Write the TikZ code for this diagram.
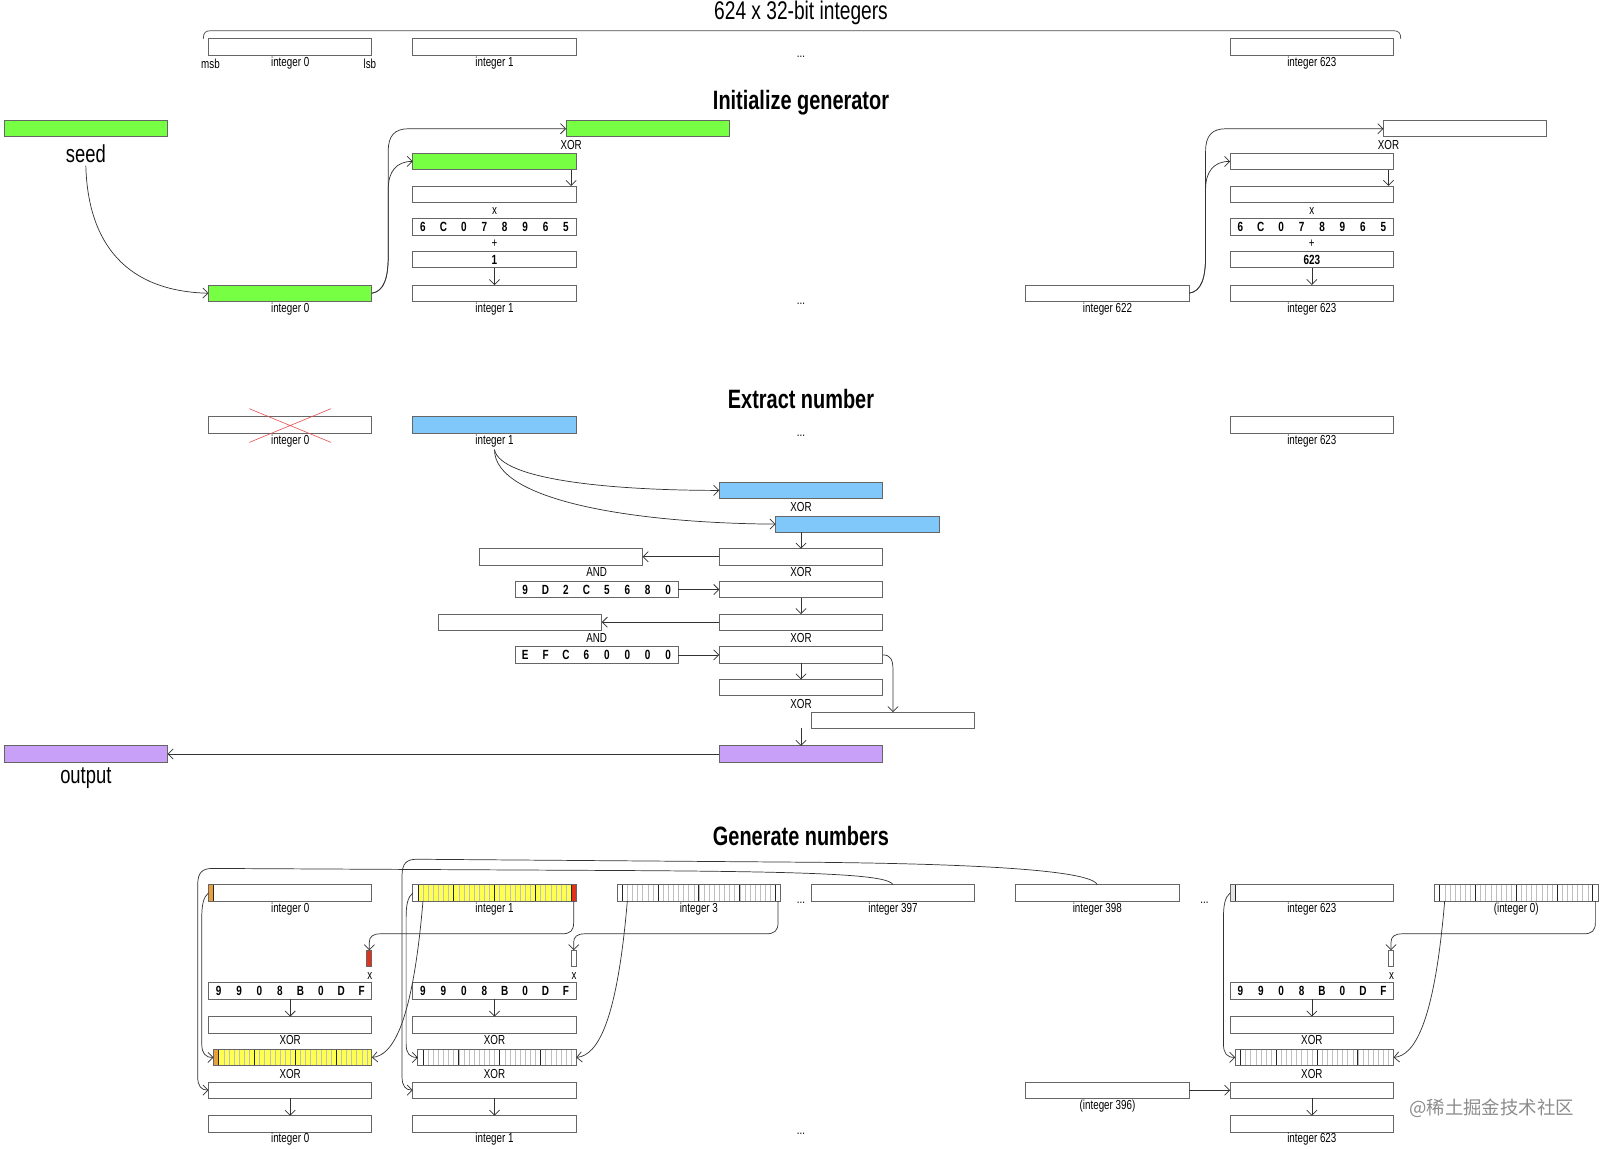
\documentclass[tikz,border=0pt]{standalone}
\usepackage{fontspec}
\setmainfont{Liberation Sans}[FakeStretch=0.75]
\newfontfamily\cjkfam{Noto Sans CJK SC}
\usetikzlibrary{arrows.meta}
\definecolor{cgreen}{RGB}{119,255,68}
\definecolor{cblue}{RGB}{128,200,250}
\definecolor{cpurple}{RGB}{200,160,248}
\definecolor{cyellow}{RGB}{255,255,80}
\definecolor{corange}{RGB}{232,160,60}
\definecolor{cred}{RGB}{225,50,30}
\definecolor{cxred}{RGB}{230,80,80}
\colorlet{bord}{black!60}
\colorlet{lnc}{black!80}
\newcommand\lblf{\fontsize{12.8}{14}\selectfont}
\newcommand\cstf{\bfseries\fontsize{13}{15}\selectfont}
\newcommand\ttlf{\fontsize{25}{28}\selectfont}
\newcommand\ttlbf{\bfseries\fontsize{26}{28}\selectfont}
\newcommand\bigf{\fontsize{24}{28}\selectfont}
\newcommand\cjkf{\cjkfam\fontsize{18}{22}\selectfont}
\newcommand\hexs[8]{\makebox[20pt]{#1}\makebox[20pt]{#2}\makebox[20pt]{#3}\makebox[20pt]{#4}\makebox[20pt]{#5}\makebox[20pt]{#6}\makebox[20pt]{#7}\makebox[20pt]{#8}}
\begin{document}
\begin{tikzpicture}[x=1pt,y=-1pt,
 bx/.style={draw=bord,line width=0.8pt,minimum width=160pt,minimum height=16pt,inner sep=0pt,outer sep=0pt,anchor=north west},
 lb/.style={font=\lblf,inner sep=0pt,anchor=center},
 kbx/.style={bx,font=\cstf},
 arr/.style={draw=lnc,line width=0.7pt,-{Straight Barb[length=5pt,width=10pt]}},
 ln/.style={draw=lnc,line width=0.7pt},
 bitl/.style={draw=black!25,line width=0.3pt},
 bytel/.style={draw=black!85,line width=0.7pt},
]
\useasboundingbox (0,0) rectangle (1568,1124);

% ---------------- top
\node[font=\ttlf,inner sep=0pt] (ttop) at (784,13) {624 x 32-bit integers};
\draw[ln,draw=black!70] (199,38) .. controls (199,32) and (201,30) .. (207,30) -- (1363,30) .. controls (1369,30) and (1371,32) .. (1371,38);
\node[bx] (top0) at (204,38) {};
\node[bx] (top1) at (404,38) {};
\node[bx] (top623) at (1204,38) {};
\node[lb] (lmsb) at (206,62) {msb};
\node[lb] (ltop0) at (284,62) {integer 0};
\node[lb] (llsb) at (362,62) {lsb};
\node[lb] (ltop1) at (484,62) {integer 1};
\node[lb] (ltop623) at (1284,62) {integer 623};
\node[lb] (dtop) at (784,56) {...};

% ---------------- initialize
\node[font=\ttlbf,inner sep=0pt] (tinit) at (784,101) {Initialize generator};
\node[bx,fill=cgreen] (seedb) at (4,118) {};
\node[font=\bigf,inner sep=0pt] (seedl) at (84,150) {seed};
\node[bx,fill=cgreen] (i0) at (204,279) {};
\node[lb] (li0) at (284,303) {integer 0};
\node[bx,fill=cgreen] (xa) at (554,118) {};
\node[lb] (lxa) at (559,142) {XOR};
\node[bx,fill=cgreen] (ga) at (404,150) {};
\node[bx] (ma) at (404,182) {};
\node[lb] (lxma) at (484,207) {x};
\node[kbx] (ka) at (404,214) {\hexs 6C078965};
\node[lb] (lpa) at (484,239) {+};
\node[kbx] (oa) at (404,246) {1};
\node[bx] (ra) at (404,279) {};
\node[lb] (lra) at (484,303) {integer 1};
\node[lb] (dinit) at (784,297) {...};
\node[bx] (i622) at (1004,279) {};
\node[lb] (li622) at (1084,303) {integer 622};
\node[bx] (xb) at (1354,118) {};
\node[lb] (lxb) at (1359,142) {XOR};
\node[bx] (gb) at (1204,150) {};
\node[bx] (mb) at (1204,182) {};
\node[lb] (lxmb) at (1284,207) {x};
\node[kbx] (kB) at (1204,214) {\hexs 6C078965};
\node[lb] (lpb) at (1284,239) {+};
\node[kbx] (ob) at (1204,246) {623};
\node[bx] (rb) at (1204,279) {};
\node[lb] (lrb) at (1284,303) {integer 623};

\draw[arr] ([yshift=-3pt]seedl.south) .. controls (86,240) and (125,285) .. (i0.west);
\draw[arr] (i0.east) .. controls (376,285) and (380,272) .. (380,250) -- (380,148) .. controls (380,133) and (386,126) .. (400,126) -- (xa.west);
\draw[arr] (i0.east) .. controls (376,285) and (380,272) .. (380,250) -- (380,185) .. controls (380,168) and (388,158) .. (ga.west);
\draw[arr] ([xshift=-5pt]ga.south east) -- ([xshift=-5pt]ma.north east);
\draw[arr] (oa.south) -- (ra.north);
\draw[arr] (i622.east) .. controls (1176,285) and (1180,272) .. (1180,250) -- (1180,148) .. controls (1180,133) and (1186,126) .. (1200,126) -- (xb.west);
\draw[arr] (i622.east) .. controls (1176,285) and (1180,272) .. (1180,250) -- (1180,185) .. controls (1180,168) and (1188,158) .. (gb.west);
\draw[arr] ([xshift=-5pt]gb.south east) -- ([xshift=-5pt]mb.north east);
\draw[arr] (ob.south) -- (rb.north);

% ---------------- extract
\node[font=\ttlbf,inner sep=0pt] (text) at (784,391) {Extract number};
\node[bx] (e0) at (204,408) {};
\node[lb] (le0) at (284,432) {integer 0};
\draw[draw=cxred,line width=0.6pt] (244,400) -- (324,433) (244,433) -- (324,400);
\node[bx,fill=cblue] (e1) at (404,408) {};
\node[lb] (le1) at (484,432) {integer 1};
\node[lb] (dext) at (784,427) {...};
\node[bx] (e623) at (1204,408) {};
\node[lb] (le623) at (1284,432) {integer 623};
\node[bx,fill=cblue] (ea) at (704,472) {};
\node[lb] (lea) at (784,496) {XOR};
\node[bx,fill=cblue] (eb) at (759,505) {};
\node[bx] (ec) at (704,537) {};
\node[bx] (ed) at (469,537) {};
\node[lb] (led) at (584,560) {AND};
\node[lb] (lec) at (784,560) {XOR};
\node[kbx] (k1) at (504,569) {\hexs 9D2C5680};
\node[bx] (ee) at (704,569) {};
\node[bx] (ef) at (704,601) {};
\node[bx] (eg) at (429,601) {};
\node[lb] (leg) at (584,624) {AND};
\node[lb] (lef) at (784,624) {XOR};
\node[kbx] (k2) at (504,633) {\hexs EFC60000};
\node[bx] (eh) at (704,633) {};
\node[bx] (ei) at (704,665) {};
\node[lb] (lei) at (784,689) {XOR};
\node[bx] (ej) at (794,697) {};
\coordinate (jt) at ([xshift=80pt]ej.north west);
\node[bx,fill=cpurple] (ep) at (704,730) {};
\node[bx,fill=cpurple] (eout) at (4,730) {};
\node[font=\bigf,inner sep=0pt] (lout) at (84,762) {output};

\draw[arr] ([yshift=-2pt]le1.south) .. controls (490,470) and (600,480) .. (ea.west);
\draw[arr] ([yshift=-2pt]le1.south) .. controls (484,490) and (620,512) .. (eb.west);
\draw[arr] ([xshift=25pt]eb.south west) -- (ec.north);
\draw[arr] (ec.west) -- (ed.east);
\draw[arr] (k1.east) -- (ee.west);
\draw[arr] (ee.south) -- (ef.north);
\draw[arr] (ef.west) -- (eg.east);
\draw[arr] (k2.east) -- (eh.west);
\draw[arr] (eh.south) -- (ei.north);
\draw[arr] (eh.east) .. controls (872,641) and (874,646) .. (874,656) -- (jt);
\draw[arr] (ep.north |- ej.south) -- (ep.north);
\draw[arr] (ep.west) -- (eout.east);

% ---------------- generate
\node[font=\ttlbf,inner sep=0pt] (tgen) at (784,818) {Generate numbers};
\fill[corange] (204,866) rectangle (209,882);
\draw[bytel] (209,866) -- ++(0,16);
\fill[cyellow] (409,866) rectangle (559,882);
\fill[cred] (559,866) rectangle (564,882);
\foreach \k in {1,...,29} \draw[bitl] ({409+5*\k},866) -- ++(0,16);
\foreach \xx in {409,444,484,524,559} \draw[bytel] (\xx,866) -- ++(0,16);
\foreach \k in {1,...,29} \draw[bitl] ({609+5*\k},866) -- ++(0,16);
\foreach \xx in {609,644,684,724,759} \draw[bytel] (\xx,866) -- ++(0,16);
\fill[black!10] (1204,866) rectangle (1209,882);
\draw[bytel] (1209,866) -- ++(0,16);
\foreach \k in {1,...,29} \draw[bitl] ({1409+5*\k},866) -- ++(0,16);
\foreach \xx in {1409,1444,1484,1524,1559} \draw[bytel] (\xx,866) -- ++(0,16);

\node[bx] (n0) at (204,866) {};
\node[bx] (n1) at (404,866) {};
\node[bx] (n2) at (604,866) {};
\node[bx] (n397) at (794,866) {};
\node[bx] (n398) at (994,866) {};
\node[bx] (n623) at (1204,866) {};
\node[bx] (n0b) at (1404,866) {};
\node[lb] (ln0) at (284,890) {integer 0};
\node[lb] (ln1) at (484,890) {integer 1};
\node[lb] (ln2) at (684,890) {integer 3};
\node[lb] (ln397) at (874,890) {integer 397};
\node[lb] (ln398) at (1074,890) {integer 398};
\node[lb] (ln623) at (1284,890) {integer 623};
\node[lb] (ln0b) at (1484,890) {(integer 0)};
\node[lb] (dg1) at (784,884) {...};
\node[lb] (dg2) at (1179,884) {...};

\node[bx,minimum width=5pt,fill=cred] (s0) at (359,930) {};
\node[bx,minimum width=5pt] (s1) at (559,930) {};
\node[bx,minimum width=5pt] (s6) at (1359,930) {};
\node[lb] (lxs0) at (362,955) {x};
\node[lb] (lxs1) at (562,955) {x};
\node[lb] (lxs6) at (1362,955) {x};

\node[kbx] (q0) at (204,962) {\hexs 9908B0DF};
\node[kbx] (q1) at (404,962) {\hexs 9908B0DF};
\node[kbx] (q6) at (1204,962) {\hexs 9908B0DF};
\node[bx] (w0) at (204,995) {};
\node[bx] (w1) at (404,995) {};
\node[bx] (w6) at (1204,995) {};
\node[lb] (lw0) at (284,1018) {XOR};
\node[lb] (lw1) at (484,1018) {XOR};
\node[lb] (lw6) at (1284,1018) {XOR};

\fill[corange] (209,1027) rectangle (214,1043);
\fill[cyellow] (214,1027) rectangle (364,1043);
\foreach \k in {1,...,29} \draw[bitl] ({214+5*\k},1027) -- ++(0,16);
\foreach \xx in {214,249,289,329} \draw[bytel] (\xx,1027) -- ++(0,16);
\foreach \k in {1,...,29} \draw[bitl] ({414+5*\k},1027) -- ++(0,16);
\foreach \xx in {414,449,489,529} \draw[bytel] (\xx,1027) -- ++(0,16);
\foreach \k in {1,...,29} \draw[bitl] ({1214+5*\k},1027) -- ++(0,16);
\foreach \xx in {1214,1249,1289,1329} \draw[bytel] (\xx,1027) -- ++(0,16);
\node[bx,minimum width=155pt] (y0) at (209,1027) {};
\node[bx,minimum width=155pt] (y1) at (409,1027) {};
\node[bx,minimum width=155pt] (y6) at (1209,1027) {};
\node[lb] (ly0) at (284,1051) {XOR};
\node[lb] (ly1) at (484,1051) {XOR};
\node[lb] (ly6) at (1284,1051) {XOR};

\node[bx] (z0) at (204,1059) {};
\node[bx] (z1) at (404,1059) {};
\node[bx] (z6) at (1204,1059) {};
\node[bx] (i396) at (1004,1059) {};
\node[lb] (li396) at (1084,1083) {(integer 396)};
\node[bx] (f0) at (204,1092) {};
\node[bx] (f1) at (404,1092) {};
\node[bx] (f6) at (1204,1092) {};
\node[lb] (lf0) at (284,1115) {integer 0};
\node[lb] (lf1) at (484,1115) {integer 1};
\node[lb] (lf6) at (1284,1115) {integer 623};
\node[lb] (dg3) at (784,1110) {...};

\draw[arr] ([xshift=-2.5pt]n1.south east) -- (561.5,903) .. controls (561.5,911) and (558,914) .. (550,914) -- (372,914) .. controls (365,914) and (361.5,917) .. (361.5,922) -- (s0.north);
\draw[arr] ([xshift=-2.5pt]n2.south east) -- (761.5,903) .. controls (761.5,911) and (758,914) .. (750,914) -- (572,914) .. controls (565,914) and (561.5,917) .. (561.5,922) -- (s1.north);
\draw[arr] ([xshift=-2.5pt]n0b.south east) -- (1561.5,903) .. controls (1561.5,911) and (1558,914) .. (1550,914) -- (1372,914) .. controls (1365,914) and (1361.5,917) .. (1361.5,922) -- (s6.north);

\draw[arr] (n0.west) .. controls (199,878) and (197.5,886) .. (197.5,898) -- (197.5,1022) .. controls (197.5,1031) and (201,1035) .. (y0.west);
\draw[arr] (n1.west) .. controls (399,878) and (397.5,886) .. (397.5,898) -- (397.5,1022) .. controls (397.5,1031) and (401,1035) .. (y1.west);
\draw[arr] (n623.west) .. controls (1199,878) and (1197.5,886) .. (1197.5,898) -- (1197.5,1022) .. controls (1197.5,1031) and (1201,1035) .. (y6.west);

\draw[arr] (n397.north) .. controls (870,856) and (800,853) .. (600,852) -- (208,850) .. controls (198,850) and (193.5,854) .. (193.5,866) -- (193.5,1054) .. controls (193.5,1063) and (197,1067) .. (z0.west);
\draw[arr] (n398.north) .. controls (1070,855) and (1000,846) .. (800,844) -- (408,841) .. controls (398,841) and (393.5,845) .. (393.5,857) -- (393.5,1054) .. controls (393.5,1063) and (397,1067) .. (z1.west);

\draw[arr] ([xshift=10pt]n1.south west) .. controls (404,1000) and (385,1033) .. (y0.east);
\draw[arr] ([xshift=10pt]n2.south west) .. controls (604,1000) and (585,1033) .. (y1.east);
\draw[arr] ([xshift=10pt]n0b.south west) .. controls (1404,1000) and (1385,1033) .. (y6.east);
\draw[arr] (i396.east) -- (z6.west);

\draw[arr] (q0.south) -- (w0.north);
\draw[arr] (q1.south) -- (w1.north);
\draw[arr] (q6.south) -- (w6.north);
\draw[arr] (z0.south) -- (f0.north);
\draw[arr] (z1.south) -- (f1.north);
\draw[arr] (z6.south) -- (f6.north);

\node[font=\cjkf,text=black!45,inner sep=0pt] (wm) at (1460,1085) {@稀土掘金技术社区};
\end{tikzpicture}
\end{document}
